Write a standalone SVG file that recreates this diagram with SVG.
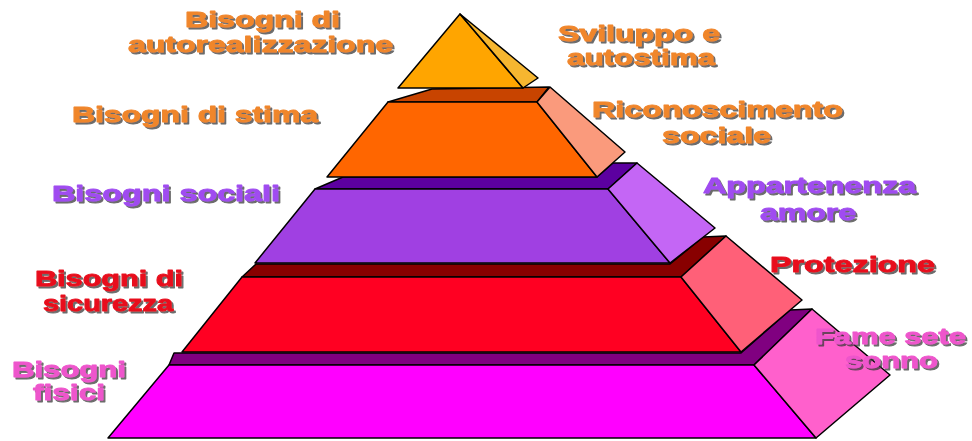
<svg xmlns="http://www.w3.org/2000/svg" width="972" height="441" viewBox="0 0 972 441">
<defs>
<filter id="sh" x="-10%" y="-30%" width="120%" height="160%">
<feDropShadow dx="2" dy="2" stdDeviation="0.7" flood-color="#3a3a3a" flood-opacity="0.75"/>
</filter>
</defs>
<style>
polygon{stroke:#000;stroke-width:1.5;stroke-linejoin:round}
text{font-family:"Liberation Sans",Arial,sans-serif;font-weight:bold;font-size:22px;stroke-width:0.9;stroke-linejoin:round;filter:url(#sh)}
.or{fill:#F0862C;stroke:#F0862C}.pu{fill:#A04CF0;stroke:#A04CF0}.rd{fill:#E8101E;stroke:#E8101E}.pk{fill:#EE55CC;stroke:#EE55CC}
</style>
<rect width="972" height="441" fill="#fff"/>
<g id="level-fisici">
<polygon fill="#800080" points="169,365 174,353 741,353 790,310 812,309 754,365"/>
<polygon fill="#FF00FF" points="169,365 754,365 816,438 108,438"/>
<polygon fill="#FF60CC" points="754,365 812,309 890,375 816,438"/>
</g>
<g id="level-sicurezza">
<polygon fill="#880000" points="242,277 256,264 670,264 703,237 726,236 681,277"/>
<polygon fill="#FF0022" points="242,277 681,277 741,352 182,352"/>
<polygon fill="#FF6078" points="681,277 726,236 802,300 741,352"/>
</g>
<g id="level-sociali">
<polygon fill="#5C00A0" points="315,189 343,177 597,177 613,163 637,163 608,189"/>
<polygon fill="#A040E2" points="315,189 608,189 670,263 255,263"/>
<polygon fill="#C466F5" points="608,189 637,163 715,228 670,263"/>
</g>
<g id="level-stima">
<polygon fill="#C84400" points="388,102 432,89 549,87 537,102"/>
<polygon fill="#FF6600" points="388,102 537,102 597,177 327,177"/>
<polygon fill="#FA9A7C" points="537,102 550,87 625,152 597,177"/>
</g>
<g id="level-autorealizzazione">
<polygon fill="#FFA500" points="460,14 398,88 523,88"/>
<polygon fill="#F6B630" points="460,14 523,88 538,78"/>
</g>
<g id="label-autorealizzazione" class="or">
<text x="185" y="27" textLength="155" lengthAdjust="spacingAndGlyphs">Bisogni di</text>
<text x="128" y="52" textLength="265" lengthAdjust="spacingAndGlyphs">autorealizzazione</text>
</g>
<g id="label-stima" class="or">
<text x="72" y="122" textLength="246" lengthAdjust="spacingAndGlyphs">Bisogni di stima</text>
</g>
<g id="label-sviluppo" class="or">
<text x="558" y="41" textLength="162" lengthAdjust="spacingAndGlyphs">Sviluppo e</text>
<text x="567" y="65" textLength="148" lengthAdjust="spacingAndGlyphs">autostima</text>
</g>
<g id="label-riconoscimento" class="or">
<text x="592" y="117" textLength="251" lengthAdjust="spacingAndGlyphs">Riconoscimento</text>
<text x="662" y="143" textLength="109" lengthAdjust="spacingAndGlyphs">sociale</text>
</g>
<g id="label-sociali" class="pu">
<text x="52" y="201" textLength="228" lengthAdjust="spacingAndGlyphs">Bisogni sociali</text>
</g>
<g id="label-appartenenza" class="pu">
<text x="703" y="193" textLength="213" lengthAdjust="spacingAndGlyphs">Appartenenza</text>
<text x="760" y="220" textLength="96" lengthAdjust="spacingAndGlyphs">amore</text>
</g>
<g id="label-sicurezza" class="rd">
<text x="35" y="286" textLength="148" lengthAdjust="spacingAndGlyphs">Bisogni di</text>
<text x="43" y="311" textLength="130" lengthAdjust="spacingAndGlyphs">sicurezza</text>
</g>
<g id="label-protezione" class="rd">
<text x="770" y="272" textLength="165" lengthAdjust="spacingAndGlyphs">Protezione</text>
</g>
<g id="label-fisici" class="pk">
<text x="12" y="377" textLength="114" lengthAdjust="spacingAndGlyphs">Bisogni</text>
<text x="33" y="400" textLength="72" lengthAdjust="spacingAndGlyphs">fisici</text>
</g>
<g id="label-fame" class="pk">
<text x="815" y="344" textLength="151" lengthAdjust="spacingAndGlyphs">Fame sete</text>
<text x="845" y="368" textLength="93" lengthAdjust="spacingAndGlyphs">sonno</text>
</g>
</svg>
